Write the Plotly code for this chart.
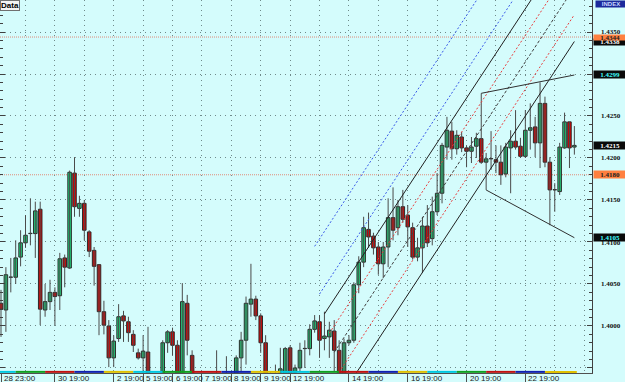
import plotly.graph_objects as go

# ---------------- data ----------------
opens = [1.4027, 1.4019, 1.4058, 1.4058, 1.4082, 1.4099, 1.4110, 1.4110, 1.4139, 1.4019,
         1.4029, 1.4040, 1.4036, 1.4081, 1.4069, 1.4182, 1.4140, 1.4146, 1.4112, 1.4090,
         1.4073, 1.4017, 1.4000, 1.3962, 1.3985, 1.4012, 1.4005, 1.3990, 1.3968, 1.3962,
         1.3969, 1.3930, 1.3926, 1.3930, 1.3980, 1.3993, 1.3977, 1.3930, 1.4027, 1.3965,
         1.3930, 1.3921, 1.3918, 1.3914, 1.3930, 1.3924, 1.3926, 1.3936, 1.3930, 1.3962,
         1.3983, 1.4026, 1.4032, 1.4012, 1.3980, 1.3936, 1.3930, 1.3945, 1.3936, 1.3974,
         1.3945, 1.3950, 1.3973, 1.3973, 1.3996, 1.4005, 1.3985, 1.3987, 1.3994, 1.3971,
         1.3938, 1.3980, 1.3983, 1.4049, 1.4076, 1.4115, 1.4107, 1.4094, 1.4074, 1.4094,
         1.4129, 1.4117, 1.4142, 1.4132, 1.4117, 1.4082, 1.4093, 1.4119, 1.4104, 1.4136,
         1.4158, 1.4213, 1.4232, 1.4211, 1.4225, 1.4212, 1.4208, 1.4214, 1.4223, 1.4195,
         1.4199, 1.4198, 1.4195, 1.4181, 1.4212, 1.4220, 1.4214, 1.4202, 1.4233, 1.4237,
         1.4218, 1.4265, 1.4195, 1.4162, 1.4160, 1.4212, 1.4243, 1.4213]
highs = [1.4043, 1.4070, 1.4081, 1.4102, 1.4114, 1.4132, 1.4152, 1.4148, 1.4148, 1.4050,
         1.4055, 1.4046, 1.4087, 1.4085, 1.4185, 1.4201, 1.4155, 1.4150, 1.4114, 1.4094,
         1.4073, 1.4030, 1.4007, 1.3989, 1.4026, 1.4018, 1.4011, 1.3995, 1.3973, 1.3989,
         1.3999, 1.3938, 1.3936, 1.3983, 1.3995, 1.3998, 1.3983, 1.4051, 1.4037, 1.3971,
         1.3938, 1.3931, 1.3930, 1.3936, 1.3971, 1.3936, 1.3964, 1.3945, 1.3965, 1.3993,
         1.4035, 1.4074, 1.4036, 1.4015, 1.3989, 1.3945, 1.3954, 1.3974, 1.3975, 1.3977,
         1.3954, 1.3980, 1.3983, 1.4002, 1.4013, 1.4013, 1.4017, 1.4005, 1.4007, 1.3983,
         1.3985, 1.3989, 1.4052, 1.4083, 1.4130, 1.4135, 1.4111, 1.4100, 1.4100, 1.4152,
         1.4165, 1.4150, 1.4162, 1.4144, 1.4123, 1.4105, 1.4130, 1.4144, 1.4154, 1.4182,
         1.4218, 1.4249, 1.4243, 1.4233, 1.4231, 1.4215, 1.4225, 1.4230, 1.4277, 1.4206,
         1.4232, 1.4215, 1.4215, 1.4218, 1.4233, 1.4257, 1.4224, 1.4257, 1.4265, 1.4249,
         1.4290, 1.4273, 1.4201, 1.4170, 1.4218, 1.4254, 1.4243, 1.4238]
lows = [1.3987, 1.3993, 1.4040, 1.4050, 1.4071, 1.4093, 1.4096, 1.4081, 1.4001, 1.4011,
        1.4019, 1.4001, 1.4019, 1.4046, 1.4068, 1.4130, 1.4130, 1.4102, 1.4082, 1.4048,
        1.3989, 1.3990, 1.3951, 1.3951, 1.3981, 1.3981, 1.3981, 1.3969, 1.3960, 1.3942,
        1.3930, 1.3918, 1.3912, 1.3924, 1.3968, 1.3965, 1.3924, 1.3924, 1.3965, 1.3924,
        1.3912, 1.3906, 1.3900, 1.3906, 1.3918, 1.3912, 1.3918, 1.3918, 1.3924, 1.3945,
        1.3954, 1.4011, 1.4007, 1.3968, 1.3924, 1.3918, 1.3918, 1.3936, 1.3930, 1.3924,
        1.3936, 1.3945, 1.3950, 1.3965, 1.3992, 1.3962, 1.3971, 1.3962, 1.3945, 1.3930,
        1.3930, 1.3977, 1.3980, 1.4039, 1.4070, 1.4093, 1.4085, 1.4061, 1.4057, 1.4070,
        1.4102, 1.4108, 1.4123, 1.4094, 1.4079, 1.4077, 1.4063, 1.4094, 1.4096, 1.4132,
        1.4146, 1.4198, 1.4198, 1.4204, 1.4207, 1.4189, 1.4194, 1.4200, 1.4193, 1.4162,
        1.4186, 1.4182, 1.4168, 1.4177, 1.4158, 1.4210, 1.4200, 1.4200, 1.4210, 1.4201,
        1.4188, 1.4189, 1.4120, 1.4136, 1.4156, 1.4211, 1.4188, 1.4204]
closes = [1.4020, 1.4061, 1.4058, 1.4081, 1.4099, 1.4108, 1.4110, 1.4137, 1.4020, 1.4029,
          1.4040, 1.4035, 1.4080, 1.4070, 1.4183, 1.4142, 1.4146, 1.4114, 1.4089, 1.4071,
          1.4017, 1.4001, 1.3962, 1.3982, 1.4011, 1.4006, 1.3992, 1.3977, 1.3962, 1.3970,
          1.3936, 1.3924, 1.3933, 1.3980, 1.3993, 1.3977, 1.3936, 1.4029, 1.3983, 1.3936,
          1.3921, 1.3918, 1.3912, 1.3930, 1.3924, 1.3926, 1.3936, 1.3938, 1.3962, 1.3983,
          1.4027, 1.4032, 1.4012, 1.3980, 1.3936, 1.3930, 1.3926, 1.3949, 1.3973, 1.3936,
          1.3950, 1.3971, 1.3973, 1.3996, 1.4006, 1.3983, 1.3988, 1.3995, 1.3971, 1.3938,
          1.3980, 1.3983, 1.4049, 1.4076, 1.4117, 1.4106, 1.4093, 1.4074, 1.4094, 1.4129,
          1.4114, 1.4142, 1.4127, 1.4118, 1.4082, 1.4093, 1.4119, 1.4099, 1.4136, 1.4158,
          1.4215, 1.4233, 1.4211, 1.4227, 1.4212, 1.4208, 1.4213, 1.4223, 1.4195, 1.4199,
          1.4199, 1.4195, 1.4180, 1.4213, 1.4220, 1.4213, 1.4202, 1.4233, 1.4236, 1.4218,
          1.4265, 1.4195, 1.4162, 1.4162, 1.4213, 1.4243, 1.4212, 1.4215]

date_tick_idx = [0, 11, 23, 29, 35, 41, 47, 53, 59, 71, 83, 95, 107]
date_tick_text = ["28 23:00", "30 19:00", "2 19:00", "5 19:00", "6 19:00", "7 19:00",
                  "8 19:00", "9 19:00", "12 19:00", "14 19:00", "16 19:00",
                  "20 19:00", "22 19:00"]
day_grid_idx = [5, 11, 17, 23, 29, 35, 41, 47, 53, 59, 65, 71, 77, 83, 89, 95, 101, 107, 113, 119]
session_bounds = [-0.2, 3, 9, 15, 21, 27, 33, 39, 45, 51, 57, 63, 69, 75, 81, 87, 93, 99, 105, 111, 117.5]

price_ticks = [1.3950, 1.4000, 1.4050, 1.4100, 1.4150, 1.4200, 1.4250, 1.4300, 1.4350]
price_labels = ["", "1.4000", "1.4050", "1.4100", "1.4150", "1.4200", "1.4250", "", "1.4350"]

# horizontal reference levels
level_prices = [1.4344, 1.4180]

# regression channel lines (start idx, start price, end idx, end price)
chan_start_idx = [64, 65, 66, 67, 68, 69, 70]
chan_start_price = [1.40948, 1.40380, 1.40143, 1.39914, 1.39687, 1.39450, 1.39219]
chan_end_idx = [117, 117, 117, 117, 117, 117, 117]
chan_end_price = [1.45648, 1.44990, 1.44664, 1.44348, 1.44031, 1.43706, 1.43387]

# broadening trend lines
trend_idx = [[98, 117], [99, 117]]
trend_price = [[1.4277, 1.42988], [1.41619, 1.41051]]

# highlighted price labels on the right scale (drawn in this order)
hl_values = [1.4338, 1.4344, 1.4299, 1.4215, 1.4180, 1.4105]

# ---------------- styling ----------------
BG = "#d4fcfc"
UP = "#1fd47c"
DN = "#e00000"
EDGE = "#2a2a2a"

fig = go.Figure()

n = len(opens)
idx = list(range(n))

# wicks
wx, wy = [], []
for i in idx:
    wx += [i, i, None]
    wy += [lows[i], highs[i], None]
fig.add_trace(go.Scatter(x=wx, y=wy, mode="lines", line=dict(color="#4a4a4a", width=1),
                         hoverinfo="skip", showlegend=False))

# channel lines
chan_styles = [("#3a5ae8", "2px,2px"), ("#3a5ae8", "2px,2px"), ("#202020", "solid"),
               ("#e84040", "2px,2px"), ("#404040", "3px,2px"), ("#e84040", "2px,2px"),
               ("#202020", "solid")]
for k in range(len(chan_start_idx)):
    col, dash = chan_styles[k]
    fig.add_trace(go.Scatter(x=[chan_start_idx[k], chan_end_idx[k]],
                             y=[chan_start_price[k], chan_end_price[k]],
                             mode="lines", line=dict(color=col, width=1, dash=dash),
                             hoverinfo="skip", showlegend=False))
for k in range(2):
    fig.add_trace(go.Scatter(x=trend_idx[k], y=trend_price[k], mode="lines",
                             line=dict(color="#303030", width=1),
                             hoverinfo="skip", showlegend=False))

# bodies
def body(sel, color):
    xs = [i for i in idx if sel(i)]
    base = [min(opens[i], closes[i]) for i in xs]
    h = [max(abs(closes[i] - opens[i]), 0.00003) for i in xs]
    fig.add_trace(go.Bar(x=xs, y=h, base=base, width=0.72,
                         marker=dict(color=color, line=dict(color=EDGE, width=1)),
                         hoverinfo="skip", showlegend=False))

body(lambda i: closes[i] > opens[i], UP)
body(lambda i: closes[i] < opens[i], DN)
body(lambda i: closes[i] == opens[i], EDGE)

shapes = []
for p in level_prices:
    shapes.append(dict(type="line", xref="paper", x0=0, x1=1, yref="y", y0=p, y1=p,
                       line=dict(color="#e08a78", width=1, dash="1px,1px"), layer="below"))
strip_cols = ["#00c8e0", "#10a020", "#c01010", "#1020b0", "#e0c000"]
for k in range(len(session_bounds) - 1):
    shapes.append(dict(type="line", xref="x", x0=session_bounds[k], x1=session_bounds[k + 1],
                       yref="paper", y0=0.003, y1=0.003,
                       line=dict(color=strip_cols[k % 5], width=2)))

annotations = []
for t, s in zip(price_ticks, price_labels):
    if s:
        annotations.append(dict(xref="paper", x=1 + 31 / 592, xanchor="right", yref="y", y=t,
                                yanchor="middle", yshift=-1 if s == "1.4100" else 0,
                                text="<b>%s</b>" % s, showarrow=False,
                                font=dict(family="Liberation Serif", size=7, color="#101010")))
hl_styles = {1.4344: ("#ff8040", "#202020", 5), 1.4338: ("#0a0a0a", "#ffffff", 6),
             1.4299: ("#0a0a0a", "#40ffff", 7), 1.4215: ("#0a0a0a", "#ffffff", 7),
             1.4180: ("#ff8040", "#202020", 7), 1.4105: ("#0a0a0a", "#40ffff", 7)}
for v in hl_values:
    bg, fg, hgt = hl_styles[v]
    annotations.append(dict(xref="paper", x=1 + 1 / 592, xanchor="left", yref="y", y=v,
                            yanchor="middle", text="<b>%.4f</b>" % v, showarrow=False,
                            bgcolor=bg, width=32, height=hgt, borderpad=0, align="center",
                            font=dict(family="Liberation Serif", size=7, color=fg)))
for i, s in zip(date_tick_idx, date_tick_text):
    annotations.append(dict(xref="x", x=i, xanchor="left", xshift=1, yref="paper", y=-5 / 373,
                            yanchor="middle", text=s, showarrow=False,
                            font=dict(family="Liberation Sans", size=8, color="#202020")))
annotations.append(dict(xref="paper", x=0, xanchor="left", yref="paper", y=1, yanchor="top",
                        text="<b>Data</b>", showarrow=False, bgcolor="#f4f4f4",
                        bordercolor="#707070", borderwidth=1, borderpad=0,
                        font=dict(family="Liberation Sans", size=8, color="#000000")))
annotations.append(dict(xref="paper", x=1 + 3 / 592, xanchor="left", yref="paper", y=1,
                        yanchor="top", text="<b>INDEX</b>", showarrow=False,
                        bgcolor="#1c2a9c", width=30, height=6, borderpad=0,
                        font=dict(family="Liberation Sans", size=6, color="#c8d8ff")))

fig.update_layout(
    width=625, height=382, margin=dict(l=0, r=33, t=0, b=9),
    paper_bgcolor=BG, plot_bgcolor=BG, barmode="overlay", showlegend=False,
    shapes=shapes, annotations=annotations,
    xaxis=dict(range=[-0.204, 120.6], showgrid=False, zeroline=False,
               tickmode="array", tickvals=date_tick_idx, ticktext=[""] * len(date_tick_idx),
               ticks="outside", ticklen=9, tickcolor="#505050", tickwidth=1,
               showline=True, linecolor="#505050", linewidth=1, mirror=True,
               minor=dict(tickmode="array", tickvals=day_grid_idx, showgrid=True,
                          gridcolor="#6f8a8a", griddash="1px,4px", gridwidth=1, ticks=""),
               fixedrange=True),
    yaxis=dict(range=[1.39440, 1.43881], side="right", zeroline=False,
               tickmode="array", tickvals=price_ticks, ticktext=[""] * len(price_ticks),
               showgrid=True, gridcolor="#6f8a8a", griddash="1px,4px", gridwidth=1,
               ticks="inside", ticklen=5, tickcolor="#404040",
               showline=True, linecolor="#404040", linewidth=1, mirror="ticks",
               minor=dict(dtick=0.001, ticks="inside", ticklen=3, tickcolor="#404040",
                          showgrid=False),
               fixedrange=True),
)

fig.write_html("out.html")
